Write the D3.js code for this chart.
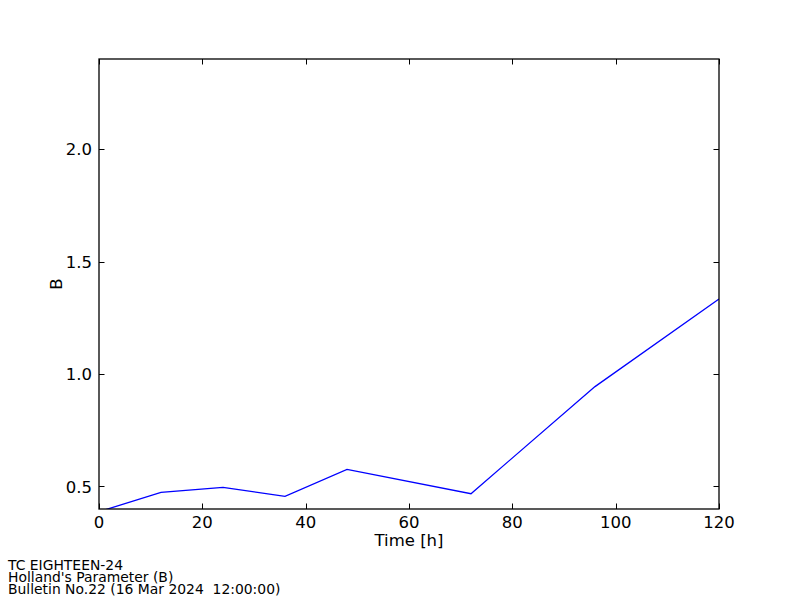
<!DOCTYPE html>
<html>
<head>
<meta charset="utf-8">
<script src="https://cdn.jsdelivr.net/npm/d3@7"></script>
<style>
  body { margin: 0; background: #fff; }
  svg { display: block; font-family: "DejaVu Sans", sans-serif; }
  text { white-space: pre; }
</style>
</head>
<body>
<svg id="chart" width="800" height="600"></svg>
<script>
// Holland's B parameter over forecast time
const hours = [0, 12, 24, 36, 48, 72, 96, 120];
const bValues = [0.388, 0.474, 0.496, 0.456, 0.576, 0.468, 0.944, 1.333];
const xTicks = [0, 20, 40, 60, 80, 100, 120];
const yTicks = [0.5, 1.0, 1.5, 2.0];
const footer = ["TC EIGHTEEN-24", "Holland's Parameter (B)", "Bulletin No.22 (16 Mar 2024  12:00:00)"];

const svg = d3.select("#chart");
const L = 99, R = 719, T = 59, B = 509;
const x = d3.scaleLinear().domain([0, 120]).range([L, R]);
const y = d3.scaleLinear().domain([0.4, 2.4]).range([B, T]);
const TL = 5.5;

svg.append("rect").attr("width", 800).attr("height", 600).attr("fill", "#fff");

svg.append("clipPath").attr("id", "clip").append("rect")
  .attr("x", L).attr("y", T).attr("width", R - L).attr("height", B - T);

// line
svg.append("path").datum(hours.map((h, i) => [h, bValues[i]]))
  .attr("clip-path", "url(#clip)")
  .attr("fill", "none").attr("stroke", "#0000ff").attr("stroke-width", 1.3)
  .attr("d", d3.line().x(d => x(d[0])).y(d => y(d[1])));

// inward ticks on all four sides
const tk = svg.append("g").attr("stroke", "#000").attr("stroke-width", 1);
xTicks.forEach(v => {
  const px = Math.round(x(v)) + 0.5;
  tk.append("line").attr("x1", px).attr("x2", px).attr("y1", B).attr("y2", B - TL);
  tk.append("line").attr("x1", px).attr("x2", px).attr("y1", T).attr("y2", T + TL);
});
yTicks.forEach(v => {
  const py = Math.round(y(v)) + 0.5;
  tk.append("line").attr("x1", L).attr("x2", L + TL).attr("y1", py).attr("y2", py);
  tk.append("line").attr("x1", R).attr("x2", R - TL).attr("y1", py).attr("y2", py);
});

// frame
svg.append("rect").attr("x", L).attr("y", T).attr("width", R - L).attr("height", B - T)
  .attr("fill", "none").attr("stroke", "#000").attr("stroke-width", 1.3);

// tick labels
svg.append("g").selectAll("text").data(xTicks).join("text")
  .attr("x", d => x(d)).attr("y", B + 19).attr("text-anchor", "middle")
  .attr("font-size", 16.5).text(d => d);
svg.append("g").selectAll("text").data(yTicks).join("text")
  .attr("x", L - 7).attr("y", d => y(d) + 6).attr("text-anchor", "end")
  .attr("font-size", 16.5).text(d => d.toFixed(1));

// axis labels
svg.append("text").attr("x", (L + R) / 2).attr("y", B + 37).attr("text-anchor", "middle")
  .attr("font-size", 16.5).text("Time [h]");
svg.append("text").attr("transform", `translate(62,${(T + B) / 2}) rotate(-90)`)
  .attr("text-anchor", "middle").attr("font-size", 16.5).text("B");

// footer
svg.append("g").selectAll("text").data(footer).join("text")
  .attr("x", 8).attr("y", (d, i) => 570 + i * 12)
  .attr("font-size", 13.9).text(d => d);
</script>
</body>
</html>
